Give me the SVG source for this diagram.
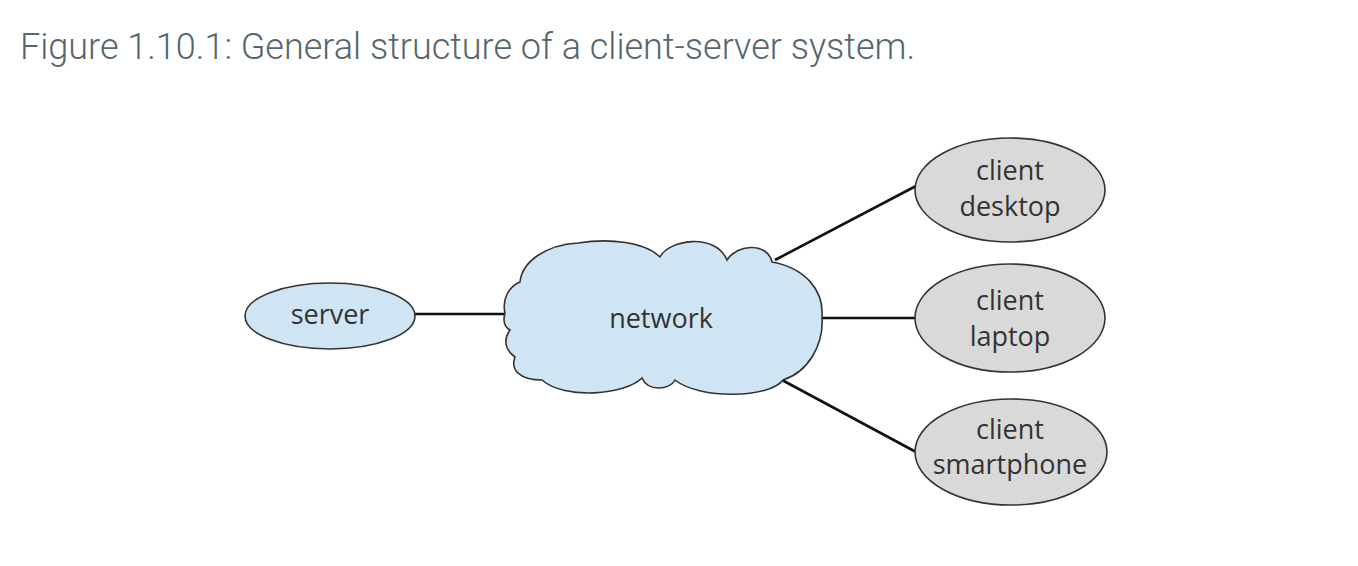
<svg xmlns="http://www.w3.org/2000/svg" width="1358" height="566" viewBox="0 0 1358 566">
<style>
.title{font-family:Roboto,"Liberation Sans",sans-serif;font-weight:300;font-size:36px;fill:#55666f}
.lbl{font-family:"Open Sans","Liberation Sans",sans-serif;font-size:27px;fill:#333;text-anchor:middle}
.blue{fill:#cfe5f4;stroke:#333;stroke-width:1.6}
.gray{fill:#d9d9d9;stroke:#333;stroke-width:1.6}
.conn{stroke:#111;stroke-width:2.6;fill:none}
</style>
<rect width="1358" height="566" fill="#fff"/>
<text class="title" x="20" y="59">Figure 1.10.1: General structure of a client-server system.</text>
<g id="connectors">
<line class="conn" x1="415" y1="314" x2="507" y2="314"/>
<line class="conn" x1="775" y1="260" x2="916" y2="186"/>
<line class="conn" x1="822" y1="318" x2="915" y2="318"/>
<line class="conn" x1="782" y1="380" x2="916" y2="452"/>
</g>
<g id="server">
<ellipse class="blue" cx="330" cy="316" rx="85" ry="33"/>
<text class="lbl" x="330" y="324">server</text>
</g>
<g id="network">
<path class="blue" d="M 505 313 C 502 300, 508 287, 520 282 C 522 262, 545 245, 578 243 C 610 238, 645 242, 660 257 C 668 240, 715 232, 727 260 C 738 243, 768 243, 772 262 C 805 268, 824 290, 822 317 C 824 345, 808 372, 783 380 C 770 398, 700 400, 675 380 C 670 390, 648 392, 642 378 C 625 395, 565 400, 542 380 C 520 380, 510 370, 515 357 C 505 350, 503 340, 510 330 C 503 326, 503 320, 505 313 Z"/>
<text class="lbl" x="661" y="328">network</text>
</g>
<g id="client-desktop">
<ellipse class="gray" cx="1010" cy="190" rx="95" ry="52"/>
<text class="lbl" x="1010" y="180">client</text>
<text class="lbl" x="1010" y="216">desktop</text>
</g>
<g id="client-laptop">
<ellipse class="gray" cx="1010" cy="318" rx="95" ry="54"/>
<text class="lbl" x="1010" y="310">client</text>
<text class="lbl" x="1010" y="346">laptop</text>
</g>
<g id="client-smartphone">
<ellipse class="gray" cx="1011" cy="452" rx="96" ry="53"/>
<text class="lbl" x="1010" y="439">client</text>
<text class="lbl" x="1010" y="474">smartphone</text>
</g>
</svg>
